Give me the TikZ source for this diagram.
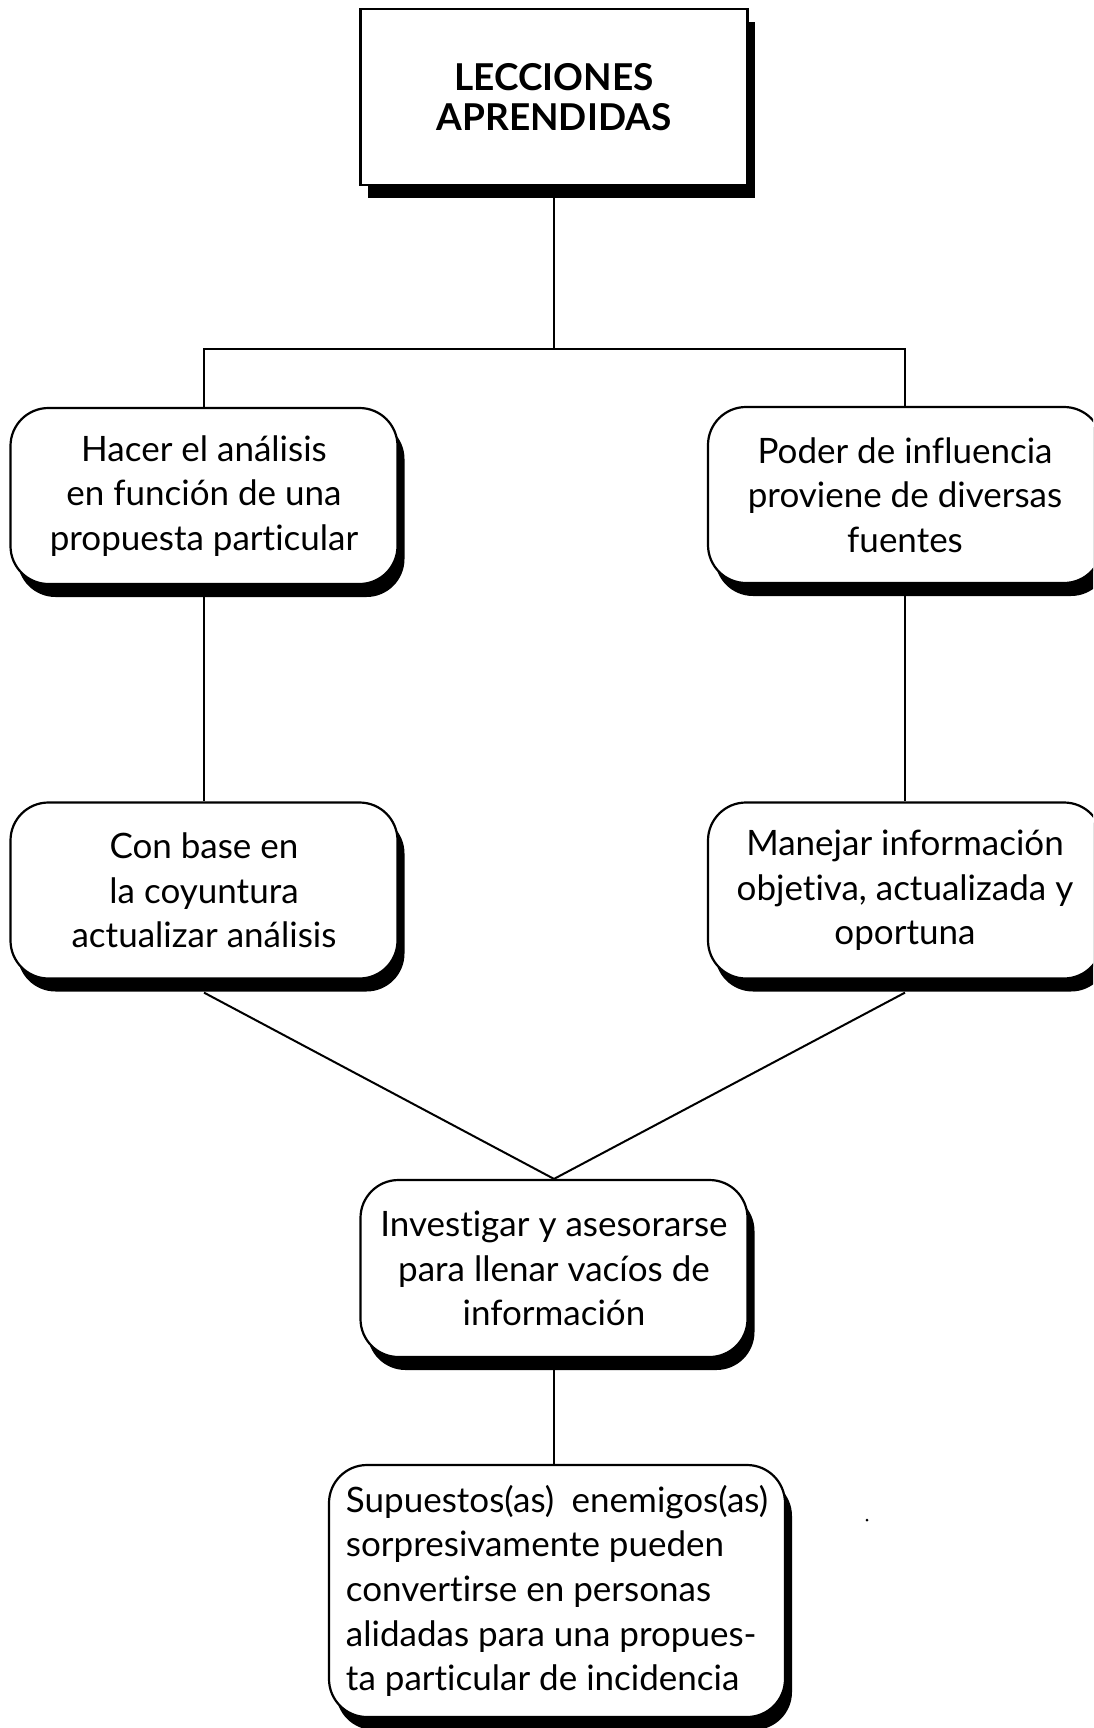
\documentclass[tikz,border=0pt]{standalone}
\usepackage{fontspec}
\setmainfont{Lato}[Ligatures={NoCommon,NoContextual}]
\usetikzlibrary{shadows}

\tikzset{
  shade box/.style={drop shadow={shadow xshift=3.5pt, shadow yshift=-6.5pt, fill=black, opacity=1}},
  titlebox/.style={draw=black, line width=1.1pt, fill=white, inner sep=0pt,
    minimum width=193.5pt, minimum height=88pt, align=center,
    font=\bfseries\fontsize{18.5}{20}\selectfont, shade box},
  lbox/.style={draw=black, line width=1.1pt, fill=white, inner sep=0pt,
    rounded corners=19pt, align=center, minimum height=88pt,
    font=\fontsize{17.5}{22.3}\selectfont, shade box},
  conn/.style={line width=1pt, draw=black}
}

\begin{document}
\begin{tikzpicture}[x=0.5pt,y=-0.5pt]
\useasboundingbox (0,0) rectangle (1093,1728);
\clip (0,0) rectangle (1093,1728);
\fill[white] (0,0) rectangle (1093,1728);

% boxes
\node[titlebox] (lec) at (554,97) {LECCIONES\\APRENDIDAS};
\node[lbox, minimum width=193.5pt] (l1) at (204,496)
  {Hacer el análisis\\en función de una\\propuesta particular};
\node[lbox, minimum width=197pt] (r1) at (905,495)
  {Poder de influencia\\proviene de diversas\\fuentes};
\node[lbox, minimum width=193.5pt] (l2) at (204,890.5)
  {Con base en\\la coyuntura\\actualizar análisis};
\node[lbox, minimum width=197pt] (r2) at (905,890.5)
  {Manejar información\\objetiva, actualizada y\\oportuna};
\node[lbox, minimum width=193.5pt, minimum height=88.5pt] (inv) at (554,1268.5)
  {Investigar y asesorarse\\para llenar vacíos de\\información};
\node[lbox, minimum width=228pt, minimum height=126pt, align=left] (sup) at (557,1591)
  {Supuestos(as)\hspace{0.5em}enemigos(as)\\sorpresivamente pueden\\convertirse en personas\\alidadas para una propues-\\ta particular de incidencia};

% connectors
\draw[conn] (lec.south) -- ++(0,163) coordinate (split);
\draw[conn] (l1.north) |- (split) -| (r1.north);
\draw[conn] (l1.south) -- (l2.north);
\draw[conn] (r1.south) -- (r2.north);
\draw[conn] ([yshift=-6.5pt]l2.south) -- (inv.north) -- ([yshift=-6.5pt]r2.south);
\draw[conn] (inv.south) -- (inv.south |- sup.north);

% stray mark
\fill (867,1520) circle (1.5);
\end{tikzpicture}
\end{document}
